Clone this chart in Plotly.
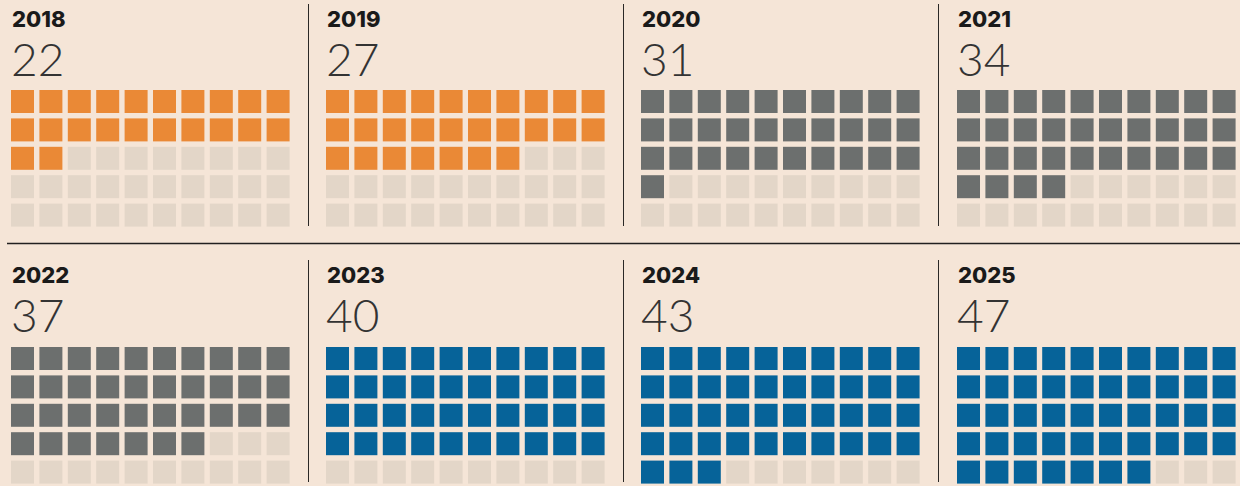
import plotly.graph_objects as go

# ---- data ----
years = ["2018", "2019", "2020", "2021", "2022", "2023", "2024", "2025"]
values = [22, 27, 31, 34, 37, 40, 43, 47]
groups = ["orange", "orange", "gray", "gray", "gray", "blue", "blue", "blue"]

# ---- style ----
palette = {"orange": "#ea8936", "gray": "#6c6f6e", "blue": "#066399"}
EMPTY = "#e3d6c8"
BG = "#f5e5d7"
N_COLS, N_ROWS = 10, 5
W, H = 1240, 486
PITCH = 28.4
CELL = 23
panel_left = [11, 326, 641, 957]   # left edge of first cell, per column of panels
row_top = [90, 347]                # top edge of first cell row, per row of panels
year_cy = [18.5, 275.2]
value_cy = [58.0, 314.8]

fig = go.Figure()
layout = {}
annotations = []
total = N_COLS * N_ROWS
for i, (yr, v, g) in enumerate(zip(years, values, groups)):
    r, c = divmod(i, 4)
    ax = "" if i == 0 else str(i + 1)
    cols = [k % N_COLS for k in range(total)]
    rows = [k // N_COLS for k in range(total)]
    colors = [palette[g] if k < v else EMPTY for k in range(total)]
    fig.add_trace(go.Scatter(
        x=cols, y=rows, mode="markers",
        marker=dict(symbol="square", size=CELL, color=colors, line=dict(width=0)),
        xaxis="x" + ax, yaxis="y" + ax, hoverinfo="skip",
        cliponaxis=False, showlegend=False))
    x0 = panel_left[c] - (PITCH - CELL) / 2
    y0 = row_top[r] - (PITCH - CELL) / 2
    y1 = min(y0 + PITCH * N_ROWS, H)
    layout["xaxis" + ax] = dict(domain=[x0 / W, (x0 + PITCH * N_COLS) / W],
                                range=[-0.5, N_COLS - 0.5], visible=False,
                                fixedrange=True, anchor="y" + ax)
    layout["yaxis" + ax] = dict(domain=[1 - y1 / H, 1 - y0 / H],
                                range=[-0.5 + (y1 - y0) / PITCH, -0.5],
                                visible=False, fixedrange=True, anchor="x" + ax)
    annotations.append(dict(
        text=yr, xref="paper", yref="paper",
        x=(panel_left[c] - 1) / W, y=1 - year_cy[r] / H,
        xanchor="left", yanchor="middle", showarrow=False,
        font=dict(family="Inter", size=22, color="#1a1a1a", weight=800)))
    annotations.append(dict(
        text=str(v), xref="paper", yref="paper",
        x=(panel_left[c] - 2) / W, y=1 - value_cy[r] / H,
        xanchor="left", yanchor="middle", showarrow=False,
        font=dict(family="Lato", size=46, color="#333333", weight=300)))

shapes = []
LINE = dict(color="#2a2826", width=1)
for xv in [308.5, 623.5, 938.5]:
    for (ya, yb) in [(4, 226), (260, 482)]:
        shapes.append(dict(type="line", xref="paper", yref="paper",
                           x0=xv / W, x1=xv / W, y0=1 - ya / H, y1=1 - yb / H,
                           line=LINE))
shapes.append(dict(type="line", xref="paper", yref="paper",
                   x0=7 / W, x1=1, y0=1 - 243.5 / H, y1=1 - 243.5 / H,
                   line=dict(color="#222020", width=1.3)))

fig.update_layout(
    width=W, height=H, margin=dict(l=0, r=0, t=0, b=0),
    paper_bgcolor=BG, plot_bgcolor=BG,
    annotations=annotations, shapes=shapes, **layout)

fig.write_html(
    "out.html", config={"displayModeBar": False},
    post_script="document.body.style.margin='0';document.body.style.padding='0';"
                "document.body.style.overflow='hidden';"
                "document.body.style.background='" + BG + "';")
